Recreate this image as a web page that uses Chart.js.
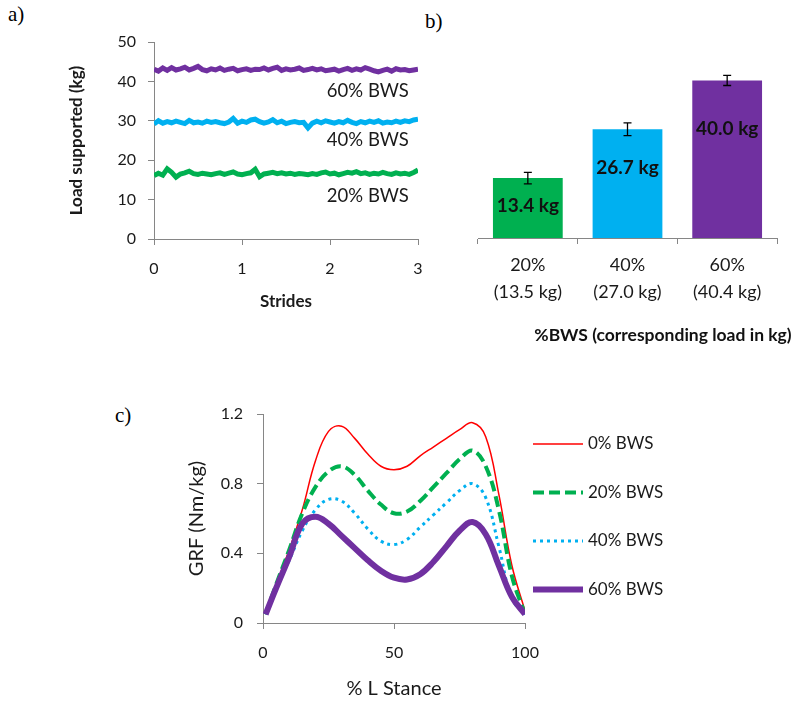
<!DOCTYPE html>
<html>
<head>
<meta charset="utf-8">
<script src="https://cdn.jsdelivr.net/npm/chart.js@4.4.1/dist/chart.umd.min.js"></script>
<style>
  body { margin: 0; background: #fff; width: 800px; height: 707px; position: relative; overflow: hidden; }
  .panel { position: absolute; }
  .tag { position: absolute; font-family: "Liberation Serif", serif; font-size: 21px; line-height: 1; color: #000; }
</style>
</head>
<body>
<div class="tag" style="left:8px;top:4px">a)</div>
<div class="tag" style="left:425px;top:11px">b)</div>
<div class="tag" style="left:115px;top:405px">c)</div>

<canvas id="loadLines" class="panel" width="440" height="340" style="left:0;top:0"></canvas>
<canvas id="loadBars" class="panel" width="360" height="350" style="left:440px;top:0"></canvas>
<canvas id="grfLines" class="panel" width="650" height="327" style="left:150px;top:380px"></canvas>

<script>
const axisGrey = "#868686";
const textCol = "#1a1a1a";
const green = "#00b050";
const blue = "#00b0f0";
const purple = "#7030a0";
const red = "#ff0000";

// panel a - load supported over 3 strides (sampled every 0.05 stride)
const strideStep = 0.05;
const load60 = [
    43.1,42.6,43.4,42.8,43.5,42.9,43.2,43.6,42.9,43.3,
    43.8,43.0,42.7,43.2,42.9,43.4,42.8,43.1,43.3,42.7,
    43.0,43.2,42.8,43.1,43.0,43.4,42.9,43.3,43.6,42.8,
    43.2,42.9,43.1,43.4,42.8,43.0,43.3,42.9,43.2,42.7,
    42.9,43.1,42.6,43.0,43.3,42.8,43.2,42.9,43.5,43.1,
    42.7,42.4,42.8,43.1,42.6,43.2,42.9,43.0,42.7,42.9,
    43.1
];
const load40 = [
    29.2,30.0,29.4,29.8,29.5,29.9,29.6,29.3,30.1,29.5,
    29.7,29.4,29.9,29.6,29.8,29.5,29.3,29.7,30.6,29.4,
    29.9,29.6,30.2,30.4,29.8,29.4,29.7,30.3,29.5,29.9,
    29.3,29.6,29.8,29.5,29.6,28.2,29.4,29.9,29.5,30.0,
    29.7,29.4,29.8,29.5,30.1,29.6,29.3,29.8,29.5,29.9,
    29.6,30.0,29.4,29.7,29.5,29.9,29.6,30.0,29.8,30.2,
    30.4
];
const load20 = [
    16.1,16.7,16.2,17.8,16.9,15.7,16.5,16.8,17.2,16.6,
    16.4,16.7,16.5,16.3,16.6,16.8,16.4,16.7,17.0,16.5,
    16.3,16.6,16.8,17.7,15.8,16.5,16.7,16.9,16.6,16.8,
    16.5,16.7,16.4,16.6,16.5,16.3,16.6,16.4,16.8,17.0,
    16.5,16.7,16.3,16.6,16.9,16.7,17.1,16.6,16.8,16.4,
    16.7,16.5,16.9,16.6,16.4,16.8,16.5,16.7,16.4,16.9,
    17.5
];
const lineNames = ["60% BWS", "40% BWS", "20% BWS"];

// panel b - mean load per condition
const bwsLabels = [["20%", "(13.5 kg)"], ["40%", "(27.0 kg)"], ["60%", "(40.4 kg)"]];
const loadMeans = [15.2, 27.6, 40.0];
const loadErrors = [1.45, 1.6, 1.3];
const barLabels = ["13.4 kg", "26.7 kg", "40.0 kg"];

// panel c - GRF over stance
const stance = [1, 5, 10, 15, 20, 25, 30, 35, 40, 45, 50, 55, 60, 65, 70, 75, 80, 85, 90, 95, 100];
const grf0  = [0.05,0.22,0.42,0.65,0.93,1.10,1.13,1.06,0.97,0.90,0.88,0.90,0.96,1.01,1.06,1.11,1.15,1.07,0.74,0.33,0.07];
const grf20 = [0.05,0.22,0.42,0.63,0.78,0.87,0.90,0.85,0.76,0.68,0.63,0.64,0.70,0.78,0.86,0.94,0.99,0.90,0.65,0.27,0.05];
const grf40 = [0.05,0.20,0.36,0.53,0.65,0.71,0.70,0.63,0.54,0.47,0.45,0.48,0.55,0.62,0.69,0.76,0.80,0.72,0.44,0.14,0.05];
const grf60 = [0.05,0.20,0.38,0.57,0.61,0.57,0.50,0.43,0.36,0.30,0.26,0.25,0.28,0.35,0.44,0.53,0.58,0.51,0.33,0.15,0.05];
const grfNames = ["0% BWS", "20% BWS", "40% BWS", "60% BWS"];

Chart.defaults.font.family = "Lato, sans-serif";
Chart.defaults.color = textCol;
Chart.defaults.animation = false;

function strideSeries(values) {
    return values.map((v, i) => ({ x: i * strideStep, y: v }));
}
function stanceSeries(values) {
    return values.map((v, i) => ({ x: stance[i], y: v }));
}

function axisStyle() {
    return {
        grid: { drawOnChartArea: false, drawTicks: true, tickLength: 6, tickColor: axisGrey },
        border: { color: axisGrey, width: 1 }
    };
}

// text labels next to each line in panel a
const lineTags = {
    id: 'lineTags',
    afterDraw(chart, args, opts) {
        const ctx = chart.ctx;
        const xs = chart.scales.x, ys = chart.scales.y;
        ctx.save();
        ctx.font = "18.5px Lato";
        ctx.fillStyle = textCol;
        ctx.textAlign = "center";
        ctx.textBaseline = "middle";
        lineNames.forEach((name, i) => {
            ctx.fillText(name, xs.getPixelForValue(opts.at[i][0]), ys.getPixelForValue(opts.at[i][1]));
        });
        ctx.restore();
    }
};

new Chart(document.getElementById('loadLines'), {
    type: 'line',
    data: {
        datasets: [
            { data: strideSeries(load60), borderColor: purple, borderWidth: 5 },
            { data: strideSeries(load40), borderColor: blue, borderWidth: 5 },
            { data: strideSeries(load20), borderColor: green, borderWidth: 5 }
        ]
    },
    options: {
        responsive: false,
        layout: { padding: { top: 42, right: 22, left: 0, bottom: 0 } },
        elements: { point: { radius: 0 }, line: { tension: 0 } },
        plugins: {
            legend: { display: false },
            tooltip: { enabled: false },
            lineTags: { at: [[2.43, 37.6], [2.43, 25.0], [2.43, 10.9]] }
        },
        scales: {
            x: {
                type: 'linear', min: 0, max: 3,
                ...axisStyle(),
                ticks: { stepSize: 1, font: { size: 16 }, padding: 14 },
                title: { display: true, text: 'Strides', font: { size: 17, weight: 'bold' }, padding: { bottom: 28 } },
                afterFit(s) { s.height = 101; }
            },
            y: {
                min: 0, max: 50,
                ...axisStyle(),
                ticks: { stepSize: 10, font: { size: 16 }, padding: 12 },
                title: { display: true, text: 'Load supported (kg)', font: { size: 17, weight: 'bold' }, padding: { top: 66 } },
                afterFit(s) { s.width = 154; }
            }
        }
    },
    plugins: [lineTags]
});

// error bars, value labels and axis caption for panel b
const barExtras = {
    id: 'barExtras',
    afterDatasetsDraw(chart, args, opts) {
        const ctx = chart.ctx;
        const ys = chart.scales.y;
        const bars = chart.getDatasetMeta(0).data;
        ctx.save();
        ctx.strokeStyle = "#000";
        ctx.lineWidth = 1.3;
        bars.forEach((bar, i) => {
            const top = ys.getPixelForValue(loadMeans[i] + loadErrors[i]);
            const bot = ys.getPixelForValue(loadMeans[i] - loadErrors[i]);
            ctx.beginPath();
            ctx.moveTo(bar.x, top); ctx.lineTo(bar.x, bot);
            ctx.moveTo(bar.x - 4, top); ctx.lineTo(bar.x + 4, top);
            ctx.moveTo(bar.x - 4, bot); ctx.lineTo(bar.x + 4, bot);
            ctx.stroke();
        });
        ctx.font = "bold 19px Lato";
        ctx.fillStyle = "#111";
        ctx.textAlign = "center";
        ctx.textBaseline = "middle";
        bars.forEach((bar, i) => {
            ctx.fillText(barLabels[i], bar.x, bar.y + opts.labelDrop[i]);
        });
        ctx.font = "bold 17.5px Lato";
        ctx.fillText(opts.caption, opts.captionX, opts.captionY);
        ctx.restore();
    }
};

new Chart(document.getElementById('loadBars'), {
    type: 'bar',
    data: {
        labels: bwsLabels,
        datasets: [{
            data: loadMeans,
            backgroundColor: [green, blue, purple],
            barPercentage: 0.7,
            categoryPercentage: 1.0
        }]
    },
    options: {
        responsive: false,
        layout: { padding: { top: 41, right: 23, left: 38, bottom: 0 } },
        plugins: {
            legend: { display: false },
            tooltip: { enabled: false },
            barExtras: {
                labelDrop: [28, 39, 48],
                caption: '%BWS (corresponding load in kg)',
                captionX: 223, captionY: 335
            }
        },
        scales: {
            x: {
                ...axisStyle(),
                ticks: { font: { size: 18, lineHeight: 1.5 }, padding: 8 },
                afterFit(s) { s.height = 112; }
            },
            y: { display: false, min: 0, max: 50 }
        }
    },
    plugins: [barExtras]
});

// legend to the right of panel c
const grfLegend = {
    id: 'grfLegend',
    afterDraw(chart, args, opts) {
        const ctx = chart.ctx;
        ctx.save();
        ctx.font = "17px Lato";
        ctx.fillStyle = textCol;
        ctx.textBaseline = "middle";
        chart.data.datasets.forEach((ds, i) => {
            const y = opts.top + i * opts.gap;
            ctx.beginPath();
            ctx.setLineDash(ds.borderDash || []);
            ctx.lineWidth = ds.borderWidth;
            ctx.strokeStyle = ds.borderColor;
            ctx.moveTo(opts.x, y);
            ctx.lineTo(opts.x + 50, y);
            ctx.stroke();
            ctx.setLineDash([]);
            ctx.fillText(grfNames[i], opts.x + 55, y);
        });
        ctx.restore();
    }
};

new Chart(document.getElementById('grfLines'), {
    type: 'line',
    data: {
        datasets: [
            { data: stanceSeries(grf0), borderColor: red, borderWidth: 1.5, order: 4 },
            { data: stanceSeries(grf20), borderColor: green, borderWidth: 4, borderDash: [11, 5], order: 3 },
            { data: stanceSeries(grf40), borderColor: blue, borderWidth: 3, borderDash: [3, 4], order: 2 },
            { data: stanceSeries(grf60), borderColor: purple, borderWidth: 6, order: 1 }
        ]
    },
    options: {
        responsive: false,
        layout: { padding: { top: 34, right: 275, left: 0, bottom: 0 } },
        elements: { point: { radius: 0 }, line: { tension: 0.4 } },
        plugins: {
            legend: { display: false },
            tooltip: { enabled: false },
            grfLegend: { x: 383, top: 64, gap: 48.5 }
        },
        scales: {
            x: {
                type: 'linear', min: 0, max: 100,
                ...axisStyle(),
                ticks: { stepSize: 50, font: { size: 16 }, padding: 14 },
                title: { display: true, text: '% L Stance', font: { size: 20 }, padding: { bottom: 6 } },
                afterFit(s) { s.height = 84; }
            },
            y: {
                min: 0, max: 1.2,
                ...axisStyle(),
                ticks: { stepSize: 0.4, font: { size: 16 }, padding: 14 },
                title: { display: true, text: 'GRF (Nm/kg)', font: { size: 20 }, padding: { top: 35 } },
                afterFit(s) { s.width = 113; }
            }
        }
    },
    plugins: [grfLegend]
});
</script>
</body>
</html>
